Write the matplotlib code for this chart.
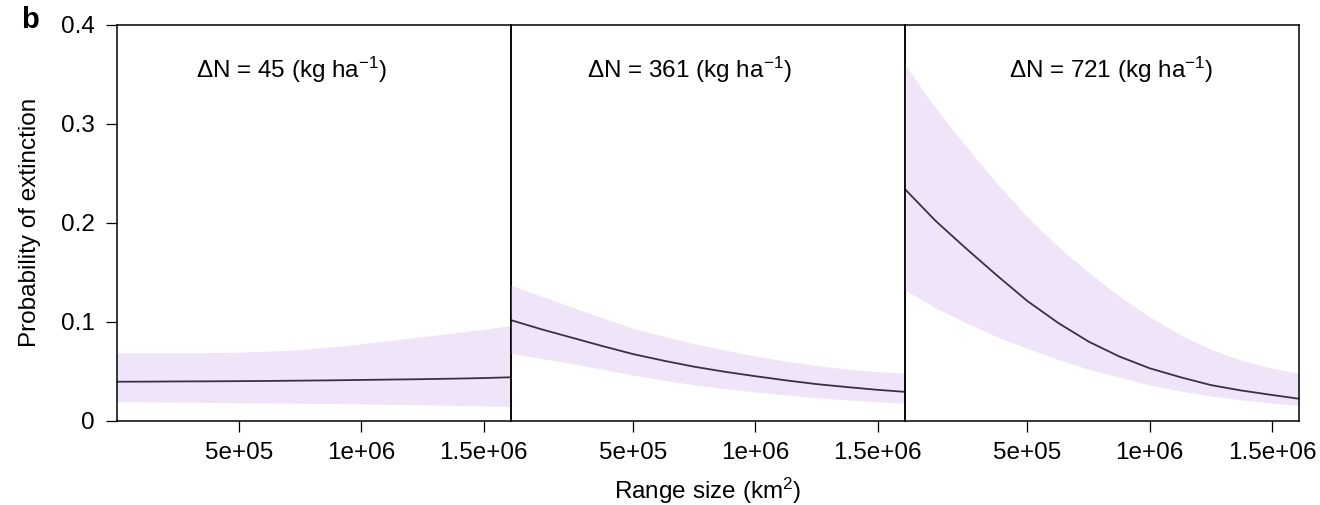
import matplotlib
matplotlib.use("Agg")
import matplotlib.pyplot as plt

plt.rcParams['font.family'] = ['Liberation Sans', 'DejaVu Sans']
plt.rcParams['mathtext.fontset'] = 'custom'
plt.rcParams['mathtext.rm'] = 'Liberation Sans'
plt.rcParams['mathtext.it'] = 'Liberation Sans:italic'
plt.rcParams['mathtext.bf'] = 'Liberation Sans:bold'

# ---- data ----
range_size = [0, 1.25e5, 2.5e5, 3.75e5, 5e5, 6.25e5, 7.5e5, 8.75e5,
              1e6, 1.125e6, 1.25e6, 1.375e6, 1.5e6, 1.61e6]

dn_labels = ["45", "361", "721"]

mean_45 = [0.0394, 0.0395, 0.0397, 0.0398, 0.0400, 0.0402, 0.0405, 0.0408,
           0.0412, 0.0416, 0.0420, 0.0425, 0.0431, 0.0439]
upper_45 = [0.0688, 0.0686, 0.0686, 0.0688, 0.0693, 0.0703, 0.0718, 0.0745,
            0.0778, 0.0813, 0.0850, 0.0887, 0.0924, 0.0962]
lower_45 = [0.0192, 0.0190, 0.0187, 0.0185, 0.0182, 0.0179, 0.0176, 0.0173,
            0.0169, 0.0165, 0.0160, 0.0155, 0.0149, 0.0143]

mean_361 = [0.1018, 0.0925, 0.0840, 0.0755, 0.0674, 0.0607, 0.0546, 0.0495,
            0.0450, 0.0408, 0.0370, 0.0340, 0.0312, 0.0292]
upper_361 = [0.1370, 0.1260, 0.1150, 0.1040, 0.0934, 0.0852, 0.0780, 0.0714,
             0.0654, 0.0602, 0.0558, 0.0522, 0.0496, 0.0480]
lower_361 = [0.0680, 0.0630, 0.0578, 0.0520, 0.0462, 0.0410, 0.0362, 0.0324,
             0.0290, 0.0260, 0.0232, 0.0210, 0.0190, 0.0176]

mean_721 = [0.234, 0.202, 0.174, 0.147, 0.121, 0.099, 0.080, 0.065,
            0.053, 0.044, 0.036, 0.0305, 0.026, 0.0222]
upper_721 = [0.360, 0.316, 0.277, 0.240, 0.206, 0.176, 0.150, 0.126,
             0.105, 0.087, 0.072, 0.061, 0.053, 0.048]
lower_721 = [0.132, 0.114, 0.099, 0.085, 0.073, 0.062, 0.052, 0.044,
             0.036, 0.030, 0.025, 0.021, 0.0178, 0.0152]

means = [mean_45, mean_361, mean_721]
uppers = [upper_45, upper_361, upper_721]
lowers = [lower_45, lower_361, lower_721]

x_ticks = [5e5, 1e6, 1.5e6]
x_ticklabels = ["5e+05", "1e+06", "1.5e+06"]
y_ticks = [0, 0.1, 0.2, 0.3, 0.4]
y_ticklabels = ["0", "0.1", "0.2", "0.3", "0.4"]

# ---- figure ----
W, H = 1320, 505
fig = plt.figure(figsize=(W / 100, H / 100), dpi=100)

lefts = [116.7, 510.5, 905.0]
width = 394.0
bottom_px, top_px = 420.7, 25.0
title_fx = [0.444, 0.453, 0.522]

band_color = '#f0e5f8'
line_color = '#3b3040'
fs = 17.5

axes = []
for i in range(3):
    ax = fig.add_axes([lefts[i] / W, (H - bottom_px) / H, width / W, (bottom_px - top_px) / H])
    axes.append(ax)
    ax.fill_between(range_size, lowers[i], uppers[i], color=band_color, lw=0, zorder=1)
    ax.plot(range_size, means[i], color=line_color, lw=1.3, zorder=2)
    ax.set_xlim(0, 1.61e6)
    ax.set_ylim(0, 0.4)
    ax.set_xticks(x_ticks)
    ax.set_xticklabels(x_ticklabels)
    ax.tick_params(axis='x', length=8, width=0.9, pad=7, labelsize=fs, direction='out')
    if i == 0:
        ax.set_yticks(y_ticks)
        ax.set_yticklabels(y_ticklabels)
        ax.tick_params(axis='y', length=8, width=0.9, pad=8, labelsize=fs, direction='out')
    else:
        ax.set_yticks([])
    for s in ax.spines.values():
        s.set_linewidth(1.1)
        s.set_color('black')
    ax.text(title_fx[i], 0.886, r"$\Delta$N = " + dn_labels[i] + r" (kg ha$^{-1}$)",
            transform=ax.transAxes, ha='center', va='center', fontsize=fs)
    ax.patch.set_alpha(0)

fig.text(30 / W, 1 - 222 / H, "Probability of extinction", rotation=90,
         ha='center', va='center', fontsize=fs)
fig.text(707.5 / W, 1 - 491 / H, r"Range size (km$^2$)", ha='center', va='center', fontsize=fs)
fig.text(30 / W, 1 - 20 / H, "b", ha='center', va='center', fontsize=21, fontweight='bold')

fig.savefig("out.png", dpi=100)
